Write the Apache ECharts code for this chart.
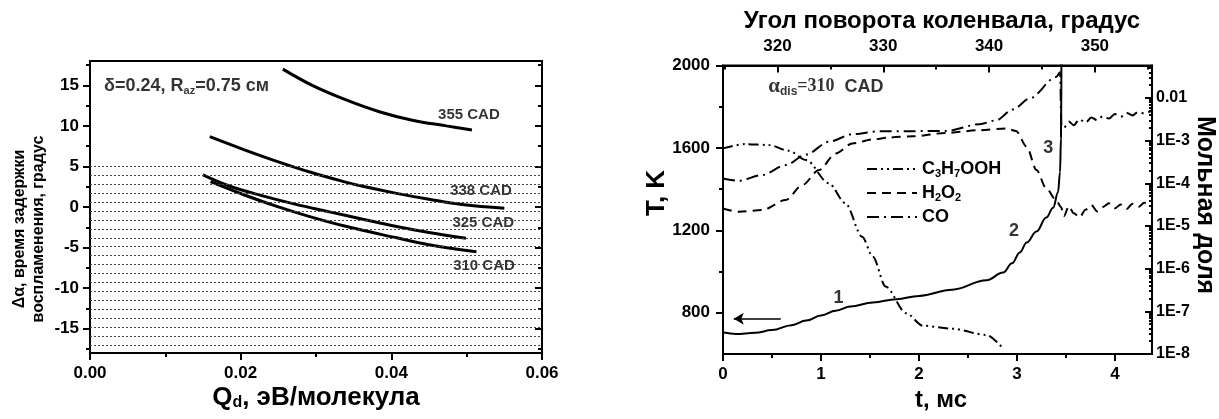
<!DOCTYPE html>
<html>
<head>
<meta charset="utf-8">
<script src="https://cdn.jsdelivr.net/npm/echarts@6/dist/echarts.min.js"></script>
<style>
  html, body { margin: 0; padding: 0; background: #fff; }
  #chart { width: 1219px; height: 419px; }
</style>
</head>
<body>
<div id="chart"></div>
<script>
// ---- left panel: ignition delay vs Qd ----
const qdTicks = [0, 0.02, 0.04, 0.06]
const qdMinor = [0.01, 0.03, 0.05]
const delayTicks = [-15, -10, -5, 0, 5, 10, 15]
const delayMinor = [-17.5, -12.5, -7.5, -2.5, 2.5, 7.5, 12.5, 17.5]
const cycleLevels = [5, 3.9, 2.8, 1.7, 0.6, -0.5, -1.6, -2.7, -3.8, -4.9, -6.0, -7.1, -8.2, -9.3, -10.4, -11.5, -12.6, -13.7, -14.8, -15.9, -17.0]

const cad355 = [[0.0256, 17.0], [0.0295, 15.0], [0.0340, 13.2], [0.0384, 11.75], [0.0428, 10.7], [0.0473, 10.0], [0.0507, 9.5]]
const cad338 = [[0.0159, 8.67], [0.0205, 7.05], [0.0249, 5.6], [0.0294, 4.25], [0.0338, 3.1], [0.0362, 2.55], [0.0407, 1.68], [0.0450, 0.95], [0.0494, 0.3], [0.0550, -0.16]]
const cad325 = [[0.0150, 3.95], [0.0183, 2.65], [0.0228, 1.40], [0.0272, 0.35], [0.0318, -0.6], [0.0362, -1.50], [0.0407, -2.40], [0.0450, -3.15], [0.0499, -3.86]]
const cad310 = [[0.0160, 3.12], [0.0205, 1.48], [0.0249, 0.04], [0.0294, -1.25], [0.0338, -2.35], [0.0407, -3.80], [0.0450, -4.65], [0.0513, -5.51]]
const leftNotes = [
  [0.0503, 11.4, '355 CAD'], [0.0519, 1.97, '338 CAD'],
  [0.0522, -1.97, '325 CAD'], [0.0523, -7.27, '310 CAD']
]
const paramNote = [[0.0018, 14.9, 'δ=0.24, R{s|az}=0.75 см']]

// ---- right panel: T and mole fractions vs t ----
const timeTicks = [0, 1, 2, 3, 4]
const timeMinor = [0.5, 1.5, 2.5, 3.5]
const degTicks = [320, 330, 340, 350]
const degMinor = [315, 325, 335, 345, 355]
const tempTicks = [800, 1200, 1600, 2000]
const tempMinor = [1000, 1400, 1800]
const logDecades = [-8, -7, -6, -5, -4, -3, -2]

const temperature = [[0.01, 704], [0.13, 697], [0.33, 703], [0.50, 716], [0.70, 740], [0.85, 762], [1.00, 787], [1.15, 810], [1.30, 830], [1.53, 850], [1.77, 866], [2.00, 882], [2.34, 912], [2.69, 958], [2.86, 995], [2.95, 1040], [3.03, 1093], [3.10, 1141], [3.20, 1195], [3.30, 1262], [3.37, 1310], [3.42, 1385], [3.44, 1482], [3.45, 1650], [3.455, 2100]]
const c3h7ooh = [[0.0, 6.6e-4], [0.23, 8.3e-4], [0.47, 7.9e-4], [0.67, 5.8e-4], [0.85, 3.5e-4], [1.08, 1.0e-4], [1.25, 3.4e-5], [1.42, 5.6e-6], [1.53, 1.9e-6], [1.66, 3.8e-7], [1.87, 9.0e-8], [2.04, 4.6e-8], [2.34, 3.9e-8], [2.69, 2.8e-8], [2.84, 1.5e-8]]
const h2o2 = [[0.0, 2.58e-5], [0.16, 2.15e-5], [0.40, 2.36e-5], [0.64, 4.05e-5], [0.81, 9.1e-5], [0.98, 2.04e-4], [1.15, 5.0e-4], [1.32, 8.6e-4], [1.53, 1.07e-3], [1.70, 1.19e-3], [1.94, 1.27e-3], [2.28, 1.52e-3], [2.62, 1.76e-3], [2.89, 1.93e-3], [2.99, 1.69e-3], [3.10, 7.2e-4], [3.20, 2.04e-4], [3.30, 7.6e-5], [3.40, 4.05e-5], [3.45, 2.8e-5],
  [3.48, 1.7e-5], [3.53, 2.9e-5], [3.58, 2.0e-5], [3.64, 1.6e-5], [3.70, 2.4e-5], [3.76, 3.1e-5], [3.82, 2.2e-5], [3.88, 2.8e-5], [3.94, 3.4e-5], [4.00, 2.6e-5], [4.06, 3.2e-5], [4.12, 2.5e-5], [4.18, 3.3e-5], [4.24, 2.8e-5], [4.30, 3.5e-5], [4.38, 3.0e-5]]
const co = [[0.0, 1.30e-4], [0.16, 1.15e-4], [0.40, 1.56e-4], [0.64, 2.67e-4], [0.85, 4.75e-4], [1.08, 9.4e-4], [1.32, 1.42e-3], [1.60, 1.67e-3], [1.94, 1.67e-3], [2.28, 1.69e-3], [2.62, 2.43e-3], [2.79, 3.0e-3], [2.96, 5.4e-3], [3.13, 9.7e-3], [3.40, 3.1e-2], [3.44, 4.0e-2], [3.455, 2.2e-3],
  [3.48, 2.0e-3], [3.53, 2.8e-3], [3.58, 2.3e-3], [3.64, 3.2e-3], [3.70, 2.6e-3], [3.76, 3.5e-3], [3.82, 3.0e-3], [3.88, 3.8e-3], [3.94, 3.3e-3], [4.00, 4.2e-3], [4.06, 3.6e-3], [4.12, 4.5e-3], [4.18, 3.9e-3], [4.24, 4.8e-3], [4.30, 4.3e-3], [4.38, 5.2e-3]]
const rightNotes = [[1.18, 873, '1'], [2.97, 1195, '2'], [3.32, 1600, '3']]
const dischargeNote = [[0.457, 1897, '{a|α}{s|dis}{t|=310}  CAD']]
const arrowFrom = [0.59, 771]
const arrowTo = [0.11, 771]

const FONT = 'Liberation Sans, Arial, sans-serif'
const SERIF = 'Liberation Serif, Times New Roman, serif'
const T_MAX = 4.379
const DEG_MIN = 314.85
const DEG_MAX = 355.4
const LOG_MAX = 0.0577

const axisPen = { color: '#000', width: 2 }
const labelFont = { color: '#000', fontSize: 17, fontWeight: 'bold', fontFamily: FONT }
const sub = (size) => ({ fontSize: size, fontWeight: 'bold', fontFamily: FONT, color: '#000', verticalAlign: 'bottom', lineHeight: 8 })

// axis that only carries a set of ticks (minor ticks, mirrored ticks)
function tickOnly(grid, position, min, max, values, inside, length) {
  return {
    gridIndex: grid, type: 'value', position, min, max,
    axisLine: { show: false, onZero: false },
    axisLabel: { show: false },
    splitLine: { show: false },
    axisTick: { show: true, inside, length, customValues: values, lineStyle: axisPen }
  }
}

function mainAxis(grid, position, min, max, ticks, extra) {
  return Object.assign({
    gridIndex: grid, type: 'value', position, min, max,
    axisLine: { show: true, onZero: false, lineStyle: axisPen },
    axisTick: { show: true, length: 7, customValues: ticks, lineStyle: axisPen },
    axisLabel: Object.assign({ customValues: ticks }, labelFont),
    splitLine: { show: false }
  }, extra || {})
}

const logMinor = []
logDecades.forEach(d => {
  for (let k = 2; k <= 9; k++) {
    const v = Math.log10(k) + d
    if (v < Math.log10(LOG_MAX)) logMinor.push(v)
  }
})

const chart = echarts.init(document.getElementById('chart'))

const option = {
  animation: false,
  backgroundColor: '#fff',
  textStyle: { fontFamily: FONT },
  grid: [
    { left: 90, top: 61, width: 452, height: 292, show: true, borderColor: '#000', borderWidth: 2 },
    { left: 723, top: 65.5, width: 429, height: 288.5, show: true, borderColor: '#000', borderWidth: 2 }
  ],
  legend: {
    data: ['C3H7OOH', 'H2O2', 'CO'],
    orient: 'vertical', left: 861, top: 154,
    itemWidth: 50, itemHeight: 14, itemGap: 4,
    selectedMode: false,
    itemStyle: { color: 'rgba(0,0,0,0)', borderColor: 'rgba(0,0,0,0)', borderWidth: 0, opacity: 0 },
    formatter: n => ({ C3H7OOH: 'C{s|3}H{s|7}OOH', H2O2: 'H{s|2}O{s|2}', CO: 'CO' })[n],
    textStyle: { color: '#000', fontSize: 18, fontWeight: 'bold', fontFamily: FONT, lineHeight: 20, rich: { s: sub(11) } }
  },
  xAxis: [
    mainAxis(0, 'bottom', 0, 0.06, qdTicks, {
      axisLabel: Object.assign({ customValues: qdTicks, margin: 12, formatter: v => v.toFixed(2) }, labelFont)
    }),
    tickOnly(0, 'bottom', 0, 0.06, qdMinor, false, 4),
    mainAxis(1, 'bottom', 0, T_MAX, timeTicks, {
      axisLabel: Object.assign({ customValues: timeTicks, margin: 12 }, labelFont)
    }),
    tickOnly(1, 'bottom', 0, T_MAX, timeMinor, false, 4),
    mainAxis(1, 'top', DEG_MIN, DEG_MAX, degTicks, {
      axisTick: { show: true, inside: true, length: 7, customValues: degTicks, lineStyle: axisPen },
      axisLabel: Object.assign({ customValues: degTicks, margin: 11 }, labelFont)
    }),
    tickOnly(1, 'top', DEG_MIN, DEG_MAX, degMinor, true, 4)
  ],
  yAxis: [
    mainAxis(0, 'left', -18, 18, delayTicks, {
      axisLabel: Object.assign({ customValues: delayTicks, margin: 11 }, labelFont)
    }),
    tickOnly(0, 'left', -18, 18, delayMinor, false, 4),
    tickOnly(0, 'right', -18, 18, delayTicks, true, 7),
    tickOnly(0, 'right', -18, 18, delayMinor, true, 4),
    mainAxis(1, 'left', 600, 2000, tempTicks, {
      axisLabel: Object.assign({ customValues: tempTicks, margin: 13, formatter: v => String(v) }, labelFont)
    }),
    tickOnly(1, 'left', 600, 2000, tempMinor, false, 4),
    {
      gridIndex: 1, type: 'log', logBase: 10, position: 'right', min: 1e-8, max: LOG_MAX, splitNumber: 7,
      axisLine: { show: true, onZero: false, lineStyle: axisPen },
      axisTick: { show: false },
      splitLine: { show: false },
      axisLabel: Object.assign({
        margin: 4, showMaxLabel: false,
        formatter: v => {
          const e = Math.round(Math.log10(v))
          return e === -2 ? '0.01' : '1E' + e
        }
      }, labelFont, { fontSize: 16 })
    },
    tickOnly(1, 'right', -8, Math.log10(LOG_MAX), logDecades, true, 7),
    tickOnly(1, 'right', -8, Math.log10(LOG_MAX), logMinor, true, 3)
  ],
  graphic: [
    {
      type: 'text', x: 29, y: 229, rotation: Math.PI / 2, silent: true,
      style: { text: 'Δα, время задержки\nвоспламенения, градус', fill: '#000', fontSize: 16, fontWeight: 'bold', fontFamily: FONT, lineHeight: 19, textAlign: 'center', textVerticalAlign: 'middle' }
    },
    {
      type: 'text', x: 316, y: 398, silent: true,
      style: { text: 'Q{s|d}, эВ/молекула', fill: '#000', fontSize: 26, fontWeight: 'bold', fontFamily: FONT, textAlign: 'center', textVerticalAlign: 'middle', rich: { s: { fontSize: 16, fontWeight: 'bold', fontFamily: FONT, fill: '#000', verticalAlign: 'bottom', lineHeight: 10 } } }
    },
    {
      type: 'text', x: 942, y: 21, silent: true,
      style: { text: 'Угол поворота коленвала, градус', fill: '#000', fontSize: 24, fontWeight: 'bold', fontFamily: FONT, textAlign: 'center', textVerticalAlign: 'middle' }
    },
    {
      type: 'text', x: 657, y: 193, rotation: Math.PI / 2, silent: true,
      style: { text: 'T, K', fill: '#000', fontSize: 26, fontWeight: 'bold', fontFamily: FONT, textAlign: 'center', textVerticalAlign: 'middle' }
    },
    {
      type: 'text', x: 941, y: 400, silent: true,
      style: { text: 't, мс', fill: '#000', fontSize: 24, fontWeight: 'bold', fontFamily: FONT, textAlign: 'center', textVerticalAlign: 'middle' }
    },
    {
      type: 'text', x: 1205, y: 205, rotation: -Math.PI / 2, silent: true,
      style: { text: 'Мольная доля', fill: '#000', fontSize: 25, fontWeight: 'bold', fontFamily: FONT, textAlign: 'center', textVerticalAlign: 'middle' }
    }
  ],
  series: [
    {
      name: 'cycle', type: 'line', xAxisIndex: 0, yAxisIndex: 0, data: [], silent: true,
      markLine: {
        symbol: 'none', silent: true, label: { show: false },
        lineStyle: { type: [2, 2], color: '#444', width: 1 },
        data: cycleLevels.map(v => ({ yAxis: v }))
      }
    },
    ...[cad355, cad338, cad325, cad310].map((d, i) => ({
      name: 'cad' + i, type: 'line', xAxisIndex: 0, yAxisIndex: 0, data: d,
      symbol: 'none', smooth: 0.4, lineStyle: { color: '#000', width: 3 }
    })),
    {
      name: 'leftNotes', type: 'scatter', xAxisIndex: 0, yAxisIndex: 0, data: leftNotes,
      symbolSize: 1, itemStyle: { color: 'rgba(0,0,0,0)' }, silent: true,
      label: { show: true, position: 'inside', formatter: p => p.data[2], color: '#000', fontSize: 15, fontWeight: 'bold', fontFamily: FONT }
    },
    {
      name: 'param', type: 'scatter', xAxisIndex: 0, yAxisIndex: 0, data: paramNote,
      symbolSize: 1, itemStyle: { color: 'rgba(0,0,0,0)' }, silent: true,
      label: { show: true, position: 'right', distance: 0, formatter: p => p.data[2], color: '#000', fontSize: 18, fontWeight: 'bold', fontFamily: FONT, lineHeight: 20, rich: { s: sub(11) } }
    },
    {
      name: 'T', type: 'line', xAxisIndex: 2, yAxisIndex: 4, data: temperature,
      symbol: 'none', smooth: 0.4, smoothMonotone: 'x', lineStyle: { color: '#000', width: 2 },
      markLine: {
        silent: true, symbol: ['none', 'arrow'], symbolSize: [9, 10], label: { show: false },
        lineStyle: { type: 'solid', color: '#000', width: 1.5 },
        data: [[{ coord: arrowFrom }, { coord: arrowTo }]]
      }
    },
    {
      name: 'C3H7OOH', type: 'line', xAxisIndex: 2, yAxisIndex: 6, data: c3h7ooh,
      symbol: 'none', smooth: 0.3, smoothMonotone: 'x', itemStyle: { color: '#000' },
      lineStyle: { color: '#000', width: 2, type: [10, 4, 2, 4, 2, 4] }
    },
    {
      name: 'H2O2', type: 'line', xAxisIndex: 2, yAxisIndex: 6, data: h2o2,
      symbol: 'none', smooth: 0.3, smoothMonotone: 'x', itemStyle: { color: '#000' },
      lineStyle: { color: '#000', width: 2, type: [9, 6] }
    },
    {
      name: 'CO', type: 'line', xAxisIndex: 2, yAxisIndex: 6, data: co,
      symbol: 'none', smooth: 0.3, smoothMonotone: 'x', itemStyle: { color: '#000' },
      lineStyle: { color: '#000', width: 2, type: [12, 5, 2, 5] }
    },
    {
      name: 'rightNotes', type: 'scatter', xAxisIndex: 2, yAxisIndex: 4, data: rightNotes,
      symbolSize: 1, itemStyle: { color: 'rgba(0,0,0,0)' }, silent: true,
      label: { show: true, position: 'inside', formatter: p => p.data[2], color: '#000', fontSize: 18, fontWeight: 'bold', fontFamily: FONT }
    },
    {
      name: 'discharge', type: 'scatter', xAxisIndex: 2, yAxisIndex: 4, data: dischargeNote,
      symbolSize: 1, itemStyle: { color: 'rgba(0,0,0,0)' }, silent: true,
      label: {
        show: true, position: 'right', distance: 0, formatter: p => p.data[2],
        color: '#000', fontSize: 18, fontWeight: 'bold', fontFamily: FONT, lineHeight: 22,
        rich: {
          a: { fontSize: 21, fontWeight: 'bold', fontFamily: SERIF, color: '#000' },
          s: sub(12),
          t: { fontSize: 18, fontWeight: 'bold', fontFamily: SERIF, color: '#000' }
        }
      }
    }
  ]
}

chart.setOption(option)
window.addEventListener('resize', () => chart.resize())
</script>
</body>
</html>
